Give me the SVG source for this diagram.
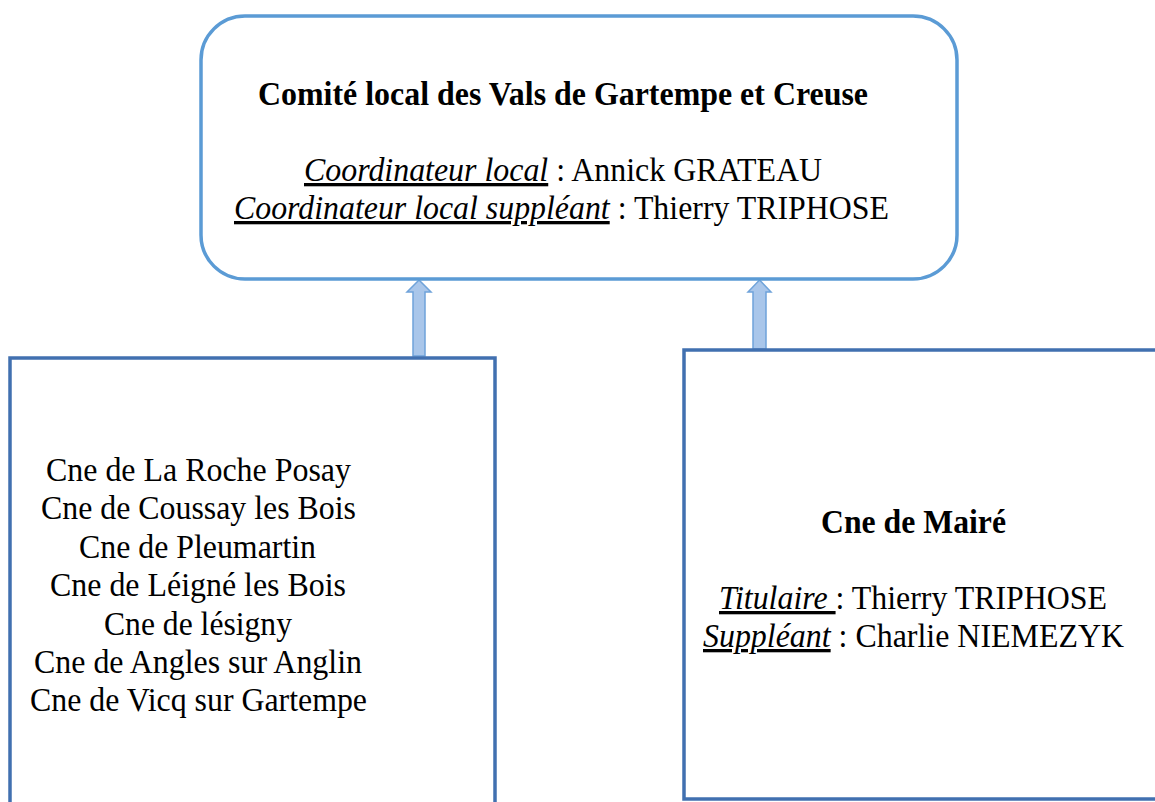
<svg xmlns="http://www.w3.org/2000/svg" width="1155" height="802" viewBox="0 0 1155 802">
<style>
.t{font-family:"Liberation Serif","Times New Roman",Tinos,serif;font-size:33px;fill:#000;text-anchor:middle}
.b{font-weight:bold}
.i{font-style:italic;text-decoration:underline}
.top{fill:#fff;stroke:#5B9BD5;stroke-width:3.5}
.box{fill:#fff;stroke:#4170B0;stroke-width:3.5}
.arr{fill:#A9C6EA;stroke:#6FA3DA;stroke-width:1.5}
</style>
<rect width="1155" height="802" fill="#fff"/>
<g id="connectors">
<path class="arr" d="M419,280 L431,292 L425,292 L425,356 L413,356 L413,292 L407,292 Z"/>
<path class="arr" d="M759.5,280 L771,292 L766,292 L766,349 L753,349 L753,292 L748,292 Z"/>
</g>
<g id="comite">
<rect class="top" x="201" y="16" width="756" height="263" rx="44" ry="44"/>
<text class="t b" x="563" y="105" textLength="610" lengthAdjust="spacingAndGlyphs">Comité local des Vals de Gartempe et Creuse</text>
<text class="t" x="563" y="181" textLength="518" lengthAdjust="spacingAndGlyphs"><tspan class="i">Coordinateur local</tspan> : Annick GRATEAU</text>
<text class="t" x="561.5" y="219" textLength="655" lengthAdjust="spacingAndGlyphs"><tspan class="i">Coordinateur local suppléant</tspan> : Thierry TRIPHOSE</text>
</g>
<g id="communes">
<rect class="box" x="10" y="358" width="485" height="460"/>
<text class="t" x="198.5" y="481" textLength="305" lengthAdjust="spacingAndGlyphs">Cne de La Roche Posay</text>
<text class="t" x="198.5" y="519" textLength="315" lengthAdjust="spacingAndGlyphs">Cne de Coussay les Bois</text>
<text class="t" x="197.5" y="558" textLength="237" lengthAdjust="spacingAndGlyphs">Cne de Pleumartin</text>
<text class="t" x="198" y="596" textLength="296" lengthAdjust="spacingAndGlyphs">Cne de Léigné les Bois</text>
<text class="t" x="198" y="635" textLength="188" lengthAdjust="spacingAndGlyphs">Cne de lésigny</text>
<text class="t" x="198" y="673" textLength="328" lengthAdjust="spacingAndGlyphs">Cne de Angles sur Anglin</text>
<text class="t" x="198.5" y="711" textLength="337" lengthAdjust="spacingAndGlyphs">Cne de Vicq sur Gartempe</text>
</g>
<g id="maire">
<rect class="box" x="684" y="350" width="500" height="449"/>
<text class="t b" x="913.5" y="533" textLength="185" lengthAdjust="spacingAndGlyphs">Cne de Mairé</text>
<text class="t" x="913" y="609" textLength="388" lengthAdjust="spacingAndGlyphs"><tspan class="i">Titulaire </tspan>: Thierry TRIPHOSE</text>
<text class="t" x="913.5" y="647" textLength="421" lengthAdjust="spacingAndGlyphs"><tspan class="i">Suppléant</tspan> : Charlie NIEMEZYK</text>
</g>
</svg>
